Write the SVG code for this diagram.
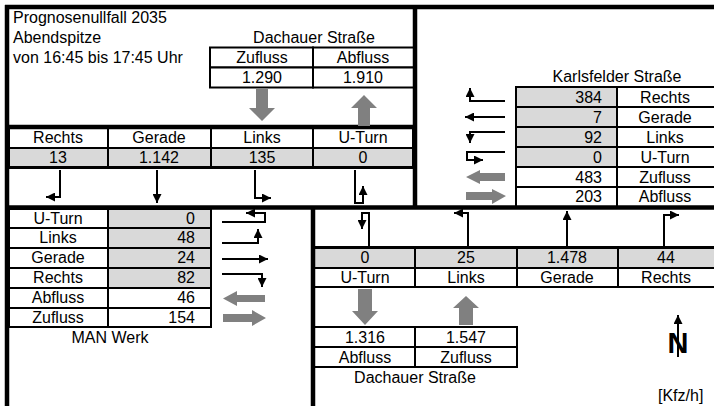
<svg xmlns="http://www.w3.org/2000/svg" width="714" height="406" viewBox="0 0 714 406">
<defs>
<marker id="ah" viewBox="0 0 10 10" refX="10" refY="5" markerWidth="9" markerHeight="9" markerUnits="userSpaceOnUse" orient="auto"><path d="M0,0 L10,5 L0,10 z" fill="#000"/></marker>
</defs>
<style>
text{font-family:"Liberation Sans",Arial,sans-serif;font-size:16px;fill:#000}
.c{text-anchor:middle}
.r{text-anchor:end}
.cell{fill:#fff;stroke:#000;stroke-width:2}
.gc{fill:#d9d9d9;stroke:#000;stroke-width:2}
.thick{stroke:#000;stroke-width:4.5;fill:none}
.mid{stroke:#000;stroke-width:3;fill:none}
.ln{stroke:#000;stroke-width:2;fill:none;marker-end:url(#ah)}
.ga{fill:#808080}
</style>
<rect width="714" height="406" fill="#fff"/>

<g id="title">
<text x="13" y="23">Prognosenullfall 2035</text>
<text x="13" y="43">Abendspitze</text>
<text x="13" y="63">von 16:45 bis 17:45 Uhr</text>
</g>

<g id="dachauer-nord">
<text class="c" x="314" y="43">Dachauer Straße</text>
<rect class="cell" x="210" y="47.5" width="103" height="20"/>
<rect class="cell" x="313" y="47.5" width="101" height="20"/>
<rect class="cell" x="210" y="67.5" width="103" height="20"/>
<rect class="cell" x="313" y="67.5" width="101" height="20"/>
<text class="c" x="262" y="63">Zufluss</text>
<text class="c" x="363" y="63">Abfluss</text>
<text class="c" x="262" y="83">1.290</text>
<text class="c" x="363" y="83">1.910</text>
<rect class="cell" x="9" y="128" width="99" height="20"/>
<rect class="cell" x="108" y="128" width="103" height="20"/>
<rect class="cell" x="211" y="128" width="102" height="20"/>
<rect class="cell" x="313" y="128" width="100" height="20"/>
<rect class="gc" x="9" y="148" width="99" height="19"/>
<rect class="gc" x="108" y="148" width="103" height="19"/>
<rect class="gc" x="211" y="148" width="102" height="19"/>
<rect class="gc" x="313" y="148" width="100" height="19"/>
<line class="thick" x1="7" y1="127" x2="415" y2="127"/>
<line class="mid" x1="7" y1="167.5" x2="415" y2="167.5"/>
<text class="c" x="58" y="143">Rechts</text>
<text class="c" x="159" y="143">Gerade</text>
<text class="c" x="262" y="143">Links</text>
<text class="c" x="363" y="143">U-Turn</text>
<text class="c" x="58" y="163">13</text>
<text class="c" x="159" y="163">1.142</text>
<text class="c" x="262" y="163">135</text>
<text class="c" x="363" y="163">0</text>
<polygon class="ga" points="256,89 268,89 268,108 275,108 262,121 249,108 256,108"/>
<polygon class="ga" points="364,95 377,108 370,108 370,126 358,126 358,108 351,108"/>
</g>

<g id="karlsfelder">
<text class="c" x="617" y="82">Karlsfelder Straße</text>
<rect class="gc" x="516" y="87" width="101" height="20"/>
<rect class="gc" x="516" y="107" width="101" height="20"/>
<rect class="gc" x="516" y="127" width="101" height="20"/>
<rect class="gc" x="516" y="147" width="101" height="20"/>
<rect class="cell" x="516" y="167" width="101" height="20"/>
<rect class="cell" x="516" y="187" width="101" height="20"/>
<rect class="cell" x="617" y="87" width="99" height="20"/>
<rect class="cell" x="617" y="107" width="99" height="20"/>
<rect class="cell" x="617" y="127" width="99" height="20"/>
<rect class="cell" x="617" y="147" width="99" height="20"/>
<rect class="cell" x="617" y="167" width="99" height="20"/>
<rect class="cell" x="617" y="187" width="99" height="20"/>
<text class="r" x="602" y="102.5">384</text>
<text class="r" x="602" y="122.5">7</text>
<text class="r" x="602" y="142.5">92</text>
<text class="r" x="602" y="162.5">0</text>
<text class="r" x="602" y="182.5">483</text>
<text class="r" x="602" y="201.5">203</text>
<text class="c" x="665" y="102.5">Rechts</text>
<text class="c" x="665" y="122.5">Gerade</text>
<text class="c" x="665" y="142.5">Links</text>
<text class="c" x="665" y="162.5">U-Turn</text>
<text class="c" x="665" y="182.5">Zufluss</text>
<text class="c" x="665" y="201.5">Abfluss</text>
<polygon class="ga" points="466,177 480,170 480,173 505,173 505,181 480,181 480,184"/>
<polygon class="ga" points="466,192 492,192 492,189 506,196 492,204 492,200 466,200"/>
</g>

<g id="man-werk">
<rect class="cell" x="9" y="209" width="99" height="19"/>
<rect class="cell" x="9" y="228" width="99" height="20"/>
<rect class="cell" x="9" y="248" width="99" height="20"/>
<rect class="cell" x="9" y="268" width="99" height="20"/>
<rect class="cell" x="9" y="288" width="99" height="20"/>
<rect class="cell" x="9" y="308" width="99" height="19"/>
<rect class="gc" x="108" y="209" width="103" height="19"/>
<rect class="gc" x="108" y="228" width="103" height="20"/>
<rect class="gc" x="108" y="248" width="103" height="20"/>
<rect class="gc" x="108" y="268" width="103" height="20"/>
<rect class="cell" x="108" y="288" width="103" height="20"/>
<rect class="cell" x="108" y="308" width="103" height="19"/>
<text class="c" x="58" y="224">U-Turn</text>
<text class="c" x="58" y="243">Links</text>
<text class="c" x="58" y="263">Gerade</text>
<text class="c" x="58" y="283">Rechts</text>
<text class="c" x="58" y="303">Abfluss</text>
<text class="c" x="58" y="323">Zufluss</text>
<text class="r" x="195" y="224">0</text>
<text class="r" x="195" y="243">48</text>
<text class="r" x="195" y="263">24</text>
<text class="r" x="195" y="283">82</text>
<text class="r" x="195" y="303">46</text>
<text class="r" x="195" y="323">154</text>
<text class="c" x="110" y="343">MAN Werk</text>
<polygon class="ga" points="223,298.5 237,291 237,295 265,295 265,302 237,302 237,306"/>
<polygon class="ga" points="223,314 252,314 252,310 266,318 252,326 252,322 223,322"/>
</g>

<g id="dachauer-sued">
<rect class="gc" x="314" y="248" width="101" height="20"/>
<rect class="gc" x="415" y="248" width="102" height="20"/>
<rect class="gc" x="517" y="248" width="101" height="20"/>
<rect class="gc" x="618" y="248" width="98" height="20"/>
<rect class="cell" x="314" y="268" width="101" height="19"/>
<rect class="cell" x="415" y="268" width="102" height="19"/>
<rect class="cell" x="517" y="268" width="101" height="19"/>
<rect class="cell" x="618" y="268" width="98" height="19"/>
<line class="mid" x1="313" y1="247.5" x2="714" y2="247.5"/>
<text class="c" x="365" y="263">0</text>
<text class="c" x="466" y="263">25</text>
<text class="c" x="567" y="263">1.478</text>
<text class="c" x="666" y="263">44</text>
<text class="c" x="365" y="283">U-Turn</text>
<text class="c" x="466" y="283">Links</text>
<text class="c" x="567" y="283">Gerade</text>
<text class="c" x="666" y="283">Rechts</text>
<rect class="cell" x="314" y="327" width="101" height="20"/>
<rect class="cell" x="415" y="327" width="102" height="20"/>
<rect class="cell" x="314" y="347" width="101" height="20"/>
<rect class="cell" x="415" y="347" width="102" height="20"/>
<text class="c" x="365" y="343">1.316</text>
<text class="c" x="466" y="343">1.547</text>
<text class="c" x="365" y="363">Abfluss</text>
<text class="c" x="466" y="363">Zufluss</text>
<text class="c" x="415" y="383">Dachauer Straße</text>
<polygon class="ga" points="358,289 372,289 372,311 378,311 365,325 352,311 358,311"/>
<polygon class="ga" points="466,296 479,308 473,308 473,325 459,325 459,308 453,308"/>
</g>

<g id="frame" class="thick">
<line x1="5" y1="7" x2="714" y2="7"/>
<line x1="7" y1="5" x2="7" y2="406"/>
<line x1="415" y1="5" x2="415" y2="209"/>
<line x1="5" y1="207.5" x2="714" y2="207.5"/>
<line x1="313" y1="207" x2="313" y2="406"/>
</g>

<g id="connectors">
<path class="ln" d="M60,170 V197 H46"/>
<path class="ln" d="M157,170 V203"/>
<path class="ln" d="M255,170 V198 H271"/>
<path class="ln" d="M355,170 V203 H363 V186"/>
<path class="ln" d="M505,101 H470 V88"/>
<path class="ln" d="M505,117 H465"/>
<path class="ln" d="M505,132 H470 V143"/>
<path class="ln" d="M505,152 H467 V160 H483"/>
<path class="ln" d="M222,222 H265 V213 H246"/>
<path class="ln" d="M222,243 H258 V229"/>
<path class="ln" d="M222,259 H268"/>
<path class="ln" d="M222,274 H262 V287"/>
<path class="ln" d="M369,246 V213 H362 V229"/>
<path class="ln" d="M468,246 V213 H454"/>
<path class="ln" d="M567,246 V211"/>
<path class="ln" d="M664,246 V215 H679"/>
</g>

<g id="north">
<text class="c" x="678" y="353" style="font-size:29px;font-weight:bold">N</text>
<path class="ln" d="M678,357 V315"/>
<text x="658" y="401">[Kfz/h]</text>
</g>
</svg>
